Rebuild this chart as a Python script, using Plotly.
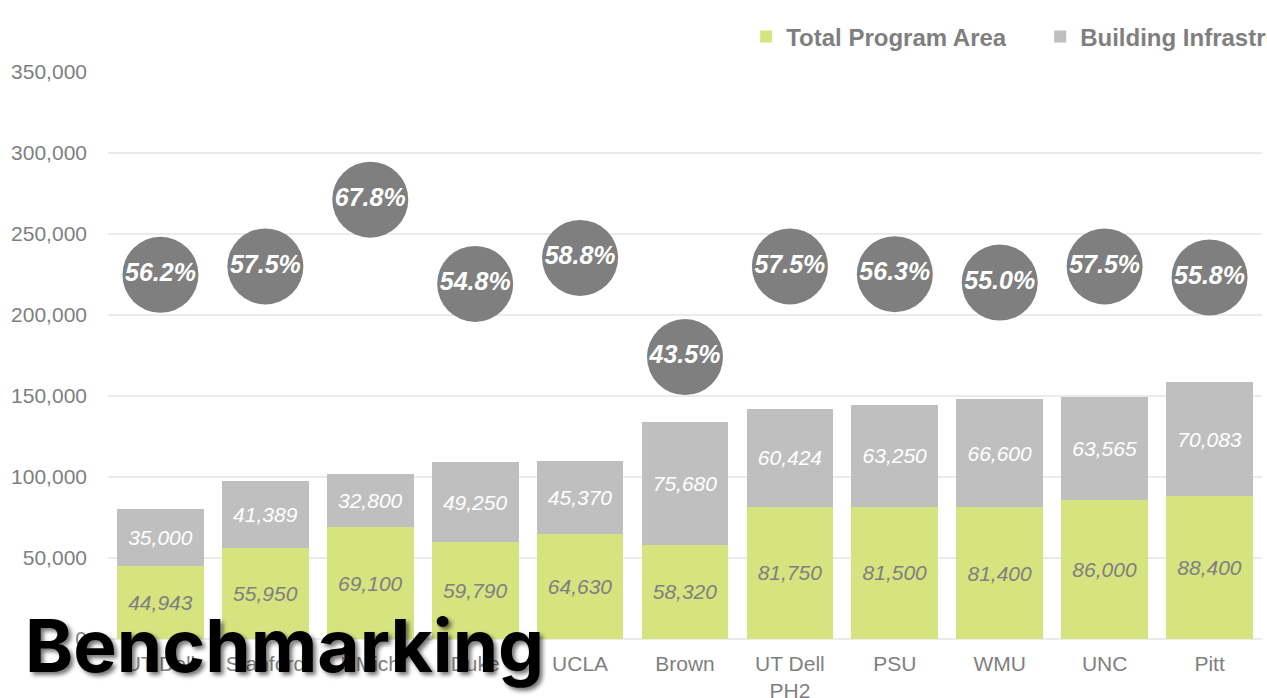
import plotly.graph_objects as go

categories = ["UT Dell", "Stanford", "UMich", "Duke", "UCLA", "Brown",
              "UT Dell<br>PH2", "PSU", "WMU", "UNC", "Pitt"]
program_area = [44943, 55950, 69100, 59790, 64630, 58320, 81750, 81500, 81400, 86000, 88400]
infrastructure = [35000, 41389, 32800, 49250, 45370, 75680, 60424, 63250, 66600, 63565, 70083]
pct_program = [56.2, 57.5, 67.8, 54.8, 58.8, 43.5, 57.5, 56.3, 55.0, 57.5, 55.8]
y_ticks = [0, 50000, 100000, 150000, 200000, 250000, 300000, 350000]

GREEN = "#d6e480"
GREY = "#bfbfbf"
DARK = "#7f7f7f"
FONT = "Liberation Sans, Arial, sans-serif"

fig = go.Figure()
fig.add_trace(go.Bar(
    x=categories, y=program_area, name="Total Program Area",
    marker=dict(color=GREEN, line=dict(width=0)),
    text=[f"{v:,}" for v in program_area], textposition="inside",
    insidetextanchor="middle", textangle=0,
    textfont=dict(family=FONT, size=21, color=DARK, style="italic"),
))
fig.add_trace(go.Bar(
    x=categories, y=infrastructure, name="Building Infrastructure",
    marker=dict(color=GREY, line=dict(width=0)),
    text=[f"{v:,}" for v in infrastructure], textposition="inside",
    insidetextanchor="middle", textangle=0,
    textfont=dict(family=FONT, size=21, color="white", style="italic"),
))
fig.add_trace(go.Scatter(
    x=categories, y=pct_program, yaxis="y2", mode="markers+text",
    marker=dict(size=76, color=DARK, line=dict(width=0)),
    text=[f"{v:.1f}%" for v in pct_program], textposition="middle center",
    textfont=dict(family=FONT, size=25, color="white", weight="bold", style="italic"),
    showlegend=False, cliponaxis=False,
))

fig.update_layout(
    width=1267, height=698,
    margin=dict(l=107.5, r=4.5, t=72, b=59, autoexpand=False),
    barmode="stack", bargap=0.174,
    plot_bgcolor="white", paper_bgcolor="white",
    font=dict(family=FONT, color=DARK),
    xaxis=dict(type="category", range=[-0.5, 10.5], autorange=False,
               showgrid=False, showline=False, ticks="", ticklabelstandoff=10,
               tickfont=dict(family=FONT, size=21, color=DARK)),
    yaxis=dict(range=[0, 350000], tickvals=y_ticks, tickformat=",",
               showgrid=True, gridcolor="#ebebeb", gridwidth=2,
               zeroline=True, zerolinecolor="#ebebeb", zerolinewidth=2,
               showline=False, ticks="", ticklabelstandoff=20,
               tickfont=dict(family=FONT, size=21, color=DARK)),
    yaxis2=dict(range=[0, 87.5], overlaying="y", side="right", visible=False,
                showgrid=False),
    legend=dict(orientation="h", x=0.553, xanchor="left", y=1.062, yanchor="middle",
                entrywidth=249, entrywidthmode="pixels",
                font=dict(family=FONT, size=24, color=DARK, weight="bold"),
                bgcolor="rgba(0,0,0,0)", traceorder="normal"),
    showlegend=True,
    annotations=[dict(
        text="Benchmarking", xref="paper", yref="paper",
        x=-0.074, y=-0.012, xanchor="left", yanchor="middle", showarrow=False,
        font=dict(family="Inter, Roboto, sans-serif", size=73, color="black",
                  weight="bold", shadow="3px 3px 4px rgba(0,0,0,0.55)"),
    )],
)

fig.write_html("out.html")
